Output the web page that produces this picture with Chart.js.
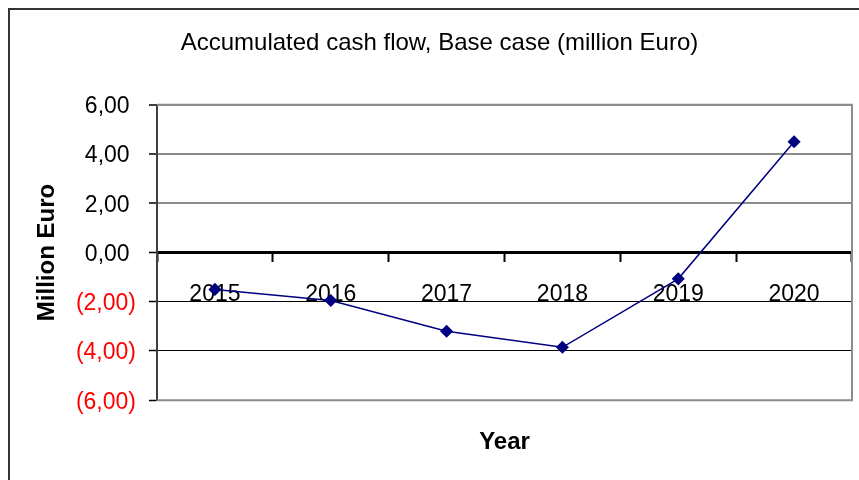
<!DOCTYPE html>
<html>
<head>
<meta charset="UTF-8">
<title>Accumulated cash flow</title>
<style>
  body { margin: 0; background: #fff; }
  #wrap { width: 859px; height: 480px; }
</style>
</head>
<body>

	<script src="https://cdn.jsdelivr.net/npm/chart.js@4/dist/chart.umd.min.js"></script>

	<div id="wrap"><canvas id="cashChart" width="859" height="480"></canvas></div>

	<script>

	// values
	var years = ['2015', '2016', '2017', '2018', '2019', '2020'];
	var cashFlow = [-1.5, -1.95, -3.2, -3.85, -1.07, 4.5];
	var yMin = -6, yMax = 6, yStep = 2;

	// Excel accounting style: "2,00 " and "(2,00)" so the digits line up
	function fmt(v) {
	  var s = Math.abs(v).toFixed(2).replace('.', ',');
	  return v < 0 ? '(' + s + ')' : s + ' ';
	}

	Chart.defaults.font.family = "'Liberation Sans', Arial, sans-serif";
	Chart.defaults.color = '#000';

	// white page + outer frame of the chart object
	var frame = {
	  id: 'frame',
	  beforeDraw: function (chart) {
	    var c = chart.ctx;
	    c.save();
	    c.fillStyle = '#fff';
	    c.fillRect(0, 0, chart.width, chart.height);
	    c.strokeStyle = '#333';
	    c.lineWidth = 2;
	    c.strokeRect(9, 9, chart.width + 20, chart.height + 20);
	    c.restore();
	  }
	};

	// grey border round the plot area
	var plotBorder = {
	  id: 'plotBorder',
	  beforeDatasetsDraw: function (chart) {
	    var a = chart.chartArea, c = chart.ctx;
	    c.save();
	    c.strokeStyle = '#8c8c8c';
	    c.lineWidth = 2;
	    c.beginPath();
	    c.moveTo(a.left, a.top);
	    c.lineTo(a.right, a.top);
	    c.lineTo(a.right, a.bottom);
	    c.lineTo(a.left, a.bottom);
	    c.stroke();
	    c.restore();
	  }
	};

	var ctx = document.getElementById('cashChart').getContext('2d');

	var cashChart = new Chart(ctx, {
	  type: 'line',
	  data: {
	    labels: years,
	    datasets: [{
	      label: 'Accumulated cash flow',
	      data: cashFlow,
	      borderColor: '#000080',
	      backgroundColor: '#000080',
	      borderWidth: 1.5,
	      pointStyle: 'rectRot',
	      pointRadius: 5.5,
	      pointBackgroundColor: '#000080',
	      pointBorderColor: '#000080',
	      tension: 0
	    }]
	  },
	  options: {
	    responsive: false,
	    animation: false,
	    layout: { padding: { left: 23, right: 3, top: 0, bottom: 0 } },
	    plugins: {
	      legend: { display: false },
	      tooltip: { enabled: false },
	      title: {
	        display: true,
	        text: 'Accumulated cash flow, Base case (million Euro)',
	        color: '#000',
	        font: { size: 24, weight: 'normal' },
	        padding: { top: 29, bottom: 47 }
	      },
	      subtitle: {
	        display: true,
	        position: 'bottom',
	        fullSize: false,
	        text: 'Year',
	        color: '#000',
	        font: { size: 24, weight: 'bold' },
	        padding: { top: 28, bottom: 23 }
	      }
	    },
	    scales: {
	      x: {
	        type: 'category',
	        offset: true,
	        position: { y: 0 },
	        border: { color: '#000', width: 3 },
	        grid: {
	          offset: true,
	          drawOnChartArea: false,
	          drawTicks: true,
	          tickLength: 8,
	          tickWidth: 2,
	          tickColor: '#000'
	        },
	        ticks: {
	          color: '#000',
	          font: { size: 23 },
	          padding: 20,
	          maxRotation: 0,
	          autoSkip: false
	        }
	      },
	      y: {
	        min: yMin,
	        max: yMax,
	        afterFit: function (s) { s.width = 134; },
	        border: { color: '#404040', width: 2 },
	        grid: {
	          color: function (c) {
	            if (c.tick.value > 0) return '#8c8c8c';
	            if (c.tick.value < 0) return '#000';
	            return 'rgba(0,0,0,0)';
	          },
	          lineWidth: function (c) { return c.tick.value > 0 ? 2 : 1; },
	          tickColor: '#000',
	          tickLength: 8,
	          tickWidth: 1.5
	        },
	        ticks: {
	          stepSize: yStep,
	          padding: 13,
	          labelOffset: 2,
	          font: { size: 23 },
	          color: function (c) { return c.tick.value < 0 ? '#ff0000' : '#000'; },
	          callback: function (v) { return fmt(v); }
	        },
	        title: {
	          display: true,
	          text: 'Million Euro',
	          color: '#000',
	          font: { size: 24, weight: 'bold' },
	          padding: { top: 10, bottom: 0 }
	        }
	      }
	    }
	  },
	  plugins: [frame, plotBorder]
	});

	</script>

</body>
</html>
